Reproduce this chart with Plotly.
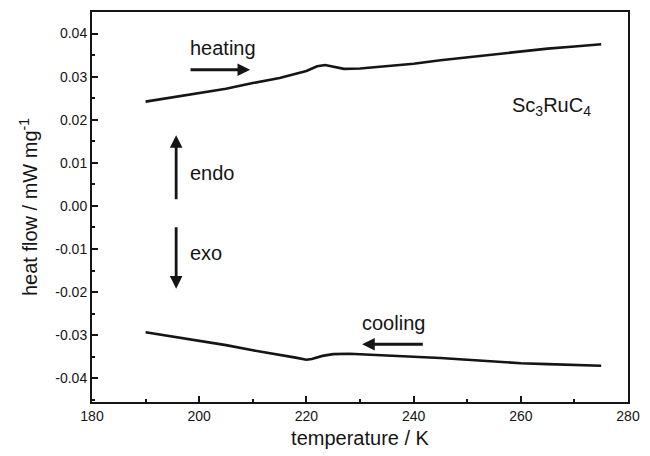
import plotly.graph_objects as go

# heating curve
heat_T = [190, 195, 200, 205, 210, 215, 220, 222, 223.5, 225, 227, 230, 235, 240, 245, 250, 255, 260, 265, 270, 275]
heat_q = [0.0242, 0.0252, 0.0262, 0.0272, 0.0285, 0.0297, 0.0313, 0.0324, 0.0327, 0.0323, 0.0318, 0.0319,
          0.0324, 0.0330, 0.0338, 0.0345, 0.0352, 0.0359, 0.0365, 0.0370, 0.0375]
# cooling curve
cool_T = [190, 195, 200, 205, 210, 215, 218, 220, 221, 223, 225, 228, 232, 236, 240, 245, 250, 255, 260, 265, 270, 275]
cool_q = [-0.0293, -0.0303, -0.0313, -0.0323, -0.0335, -0.0345, -0.0352, -0.0357, -0.0355, -0.0348, -0.0344,
          -0.0343, -0.0345, -0.0348, -0.0350, -0.0353, -0.0357, -0.0361, -0.0365, -0.0367, -0.0369, -0.0371]

x_ticks = [180, 200, 220, 240, 260, 280]
y_ticks = [-0.04, -0.03, -0.02, -0.01, 0.0, 0.01, 0.02, 0.03, 0.04]
y_labels = ["-0.04", "-0.03", "-0.02", "-0.01", "0.00", "0.01", "0.02", "0.03", "0.04"]

FONT = "Liberation Sans, Arial, sans-serif"
INK = "#151515"

fig = go.Figure()
fig.add_trace(go.Scatter(x=heat_T, y=heat_q, mode="lines", line=dict(color=INK, width=2.6), showlegend=False))
fig.add_trace(go.Scatter(x=cool_T, y=cool_q, mode="lines", line=dict(color=INK, width=2.6), showlegend=False))

ann_font = dict(family=FONT, size=20, color=INK)
annotations = [
    dict(x=204.4, y=0.0367, text="heating", showarrow=False, font=ann_font),
    dict(x=209.5, y=0.0316, ax=198.1, ay=0.0316, axref="x", ayref="y", text="", showarrow=True,
         arrowhead=2, arrowsize=0.9, arrowwidth=2.8, arrowcolor=INK),
    dict(x=197.9, y=0.0076, text="endo", showarrow=False, xanchor="left", font=ann_font),
    dict(x=195.7, y=0.0164, ax=195.7, ay=0.0012, axref="x", ayref="y", text="", showarrow=True,
         arrowhead=2, arrowsize=0.9, arrowwidth=2.8, arrowcolor=INK),
    dict(x=197.9, y=-0.0109, text="exo", showarrow=False, xanchor="left", font=ann_font),
    dict(x=195.7, y=-0.0192, ax=195.7, ay=-0.0046, axref="x", ayref="y", text="", showarrow=True,
         arrowhead=2, arrowsize=0.9, arrowwidth=2.8, arrowcolor=INK),
    dict(x=236.3, y=-0.0272, text="cooling", showarrow=False, font=ann_font),
    dict(x=230.4, y=-0.0321, ax=242.0, ay=-0.0321, axref="x", ayref="y", text="", showarrow=True,
         arrowhead=2, arrowsize=0.9, arrowwidth=2.8, arrowcolor=INK),
    dict(x=258.0, y=0.023, text="Sc<sub>3</sub>RuC<sub>4</sub>", showarrow=False, xanchor="left", font=ann_font),
]

fig.update_layout(
    width=650, height=456,
    margin=dict(l=92, r=16, t=10, b=54),
    paper_bgcolor="white", plot_bgcolor="white",
    font=dict(family=FONT, color=INK),
    annotations=annotations,
)
fig.update_xaxes(
    range=[180, 280], tickvals=x_ticks, ticktext=[str(t) for t in x_ticks],
    showgrid=False, zeroline=False, showline=True, linecolor=INK, linewidth=2, mirror=True,
    ticks="inside", ticklen=6, tickwidth=1.5, tickcolor=INK,
    minor=dict(ticks="inside", ticklen=3, tickcolor=INK, dtick=10, tick0=180),
    tickfont=dict(size=14, family=FONT, color=INK),
    title=dict(text="temperature / K", font=dict(size=20, family=FONT, color=INK), standoff=8),
)
fig.update_yaxes(
    range=[-0.0455, 0.045], tickvals=y_ticks, ticktext=y_labels,
    showgrid=False, zeroline=False, showline=True, linecolor=INK, linewidth=2, mirror=True,
    ticks="inside", ticklen=6, tickwidth=1.5, tickcolor=INK,
    minor=dict(ticks="inside", ticklen=3, tickcolor=INK, dtick=0.005, tick0=0),
    tickfont=dict(size=14, family=FONT, color=INK),
    title=dict(text="heat flow / mW mg<sup>-1</sup>", font=dict(size=20, family=FONT, color=INK), standoff=12),
)

fig.write_html("out.html")
